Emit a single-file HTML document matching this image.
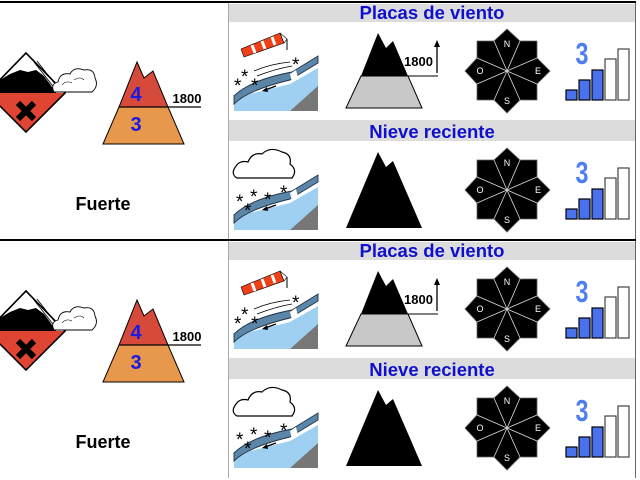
<!DOCTYPE html>
<html><head><meta charset="utf-8"><style>
html,body{margin:0;padding:0;background:#fff;width:640px;height:480px;overflow:hidden}
svg{display:block}
text{font-family:"Liberation Sans",Arial,sans-serif}
</style></head><body>
<svg width="640" height="480" viewBox="0 0 640 480" xmlns="http://www.w3.org/2000/svg">
<defs>
<g id="blk">
  <rect x="229" y="4" width="406" height="18" fill="#dcdcdc"/>
  <rect x="229" y="122" width="406" height="19" fill="#dcdcdc"/>
  <line x1="229" y1="121" x2="635" y2="121" stroke="#bbb" stroke-width="1"/>
  <polygon points="26,53 65,93 26,132 -13,93" fill="#fff" stroke="#000" stroke-width="1.5"/>
  <polygon points="65,93 26,132 -13,93" fill="#e04432"/>
  <polygon points="0,93 0,80 10,74 20,70 28,72 36,70 44,76 50,84 56,93" fill="#000"/>
  <line x1="34" y1="62" x2="56" y2="90" stroke="#000" stroke-width="0.8"/>
  <line x1="37" y1="61" x2="59" y2="89" stroke="#000" stroke-width="0.8"/>
  <polygon points="26,53 65,93 26,132 -13,93" fill="none" stroke="#000" stroke-width="1.5"/>
  <path d="M18,103 L34,119 M34,103 L18,119" stroke="#000" stroke-width="6"/>
  <path d="M54,92 Q50,84 58,82 Q60,72 70,74 Q74,66 84,70 Q94,68 95,78 Q99,86 92,92 Z" fill="#fff" stroke="#000" stroke-width="0.9"/>
  <path d="M62,85 Q66,80 72,83 M74,80 Q80,76 84,80" fill="none" stroke="#000" stroke-width="0.6"/>
  <polygon points="137,62 144,78 153,71 168,107 119,107" fill="#d64a3c" stroke="#000" stroke-width="1"/>
  <polygon points="119,107 168,107 184,144 103,144" fill="#e8984c" stroke="#000" stroke-width="1"/>
  <line x1="119" y1="107" x2="201" y2="107" stroke="#000" stroke-width="1.2"/>
  <text x="136" y="101" font-size="20" font-weight="bold" fill="#1a1ae0" text-anchor="middle">4</text>
  <text x="136" y="131" font-size="20" font-weight="bold" fill="#1a1ae0" text-anchor="middle">3</text>
  <text x="187" y="103" font-size="13" font-weight="bold" fill="#000" text-anchor="middle">1800</text>
  <text x="103" y="210" font-size="18" font-weight="bold" fill="#000" text-anchor="middle">Fuerte</text>
  <text x="432" y="19" font-size="18.5" font-weight="bold" fill="#1010cc" text-anchor="middle">Placas de viento</text>
  <text x="432" y="138" font-size="18.5" font-weight="bold" fill="#1010cc" text-anchor="middle">Nieve reciente</text>
  <g id="slope">
    <polygon points="234,103 250,94 290,84 318,68 318,111 234,111" fill="#9fd0f2"/>
    <polygon points="290,111 318,111 318,86" fill="#777"/>
    <path d="M234,104 Q248,90 290,80 L318,63 L318,56 L292,72 Q250,80 234,96 Z" fill="#5b86a8" stroke="#1e3346" stroke-width="0.9"/>
    <polygon points="290,74 296,70 298,78 292,82" fill="#fff"/>
    <path d="M276,86 L265,90" stroke="#000" stroke-width="1.2"/>
    <polygon points="262,91 267,87 268,92" fill="#000"/>
  </g>
  <use href="#slope" transform="translate(0,119)"/>
  <polygon points="241,49 280,33 284,43 244,57" fill="#f04018" stroke="#000" stroke-width="0.6"/>
  <path d="M252,45 L255,53 M262,41 L265,49 M272,37 L275,45" stroke="#fff" stroke-width="3"/>
  <path d="M280,33 L284,43 L287,39 Z" fill="#fff" stroke="#000" stroke-width="0.6"/>
  <line x1="287" y1="39" x2="287" y2="50" stroke="#000" stroke-width="1"/>
  <path d="M254,71 Q270,64 290,62 M257,76 Q275,69 292,66" fill="none" stroke="#000" stroke-width="0.8"/>
  <g font-size="19" fill="#000" font-family="Liberation Sans">
    <text x="241" y="83">*</text><text x="234" y="92">*</text><text x="251" y="92">*</text><text x="292" y="71">*</text>
    <text x="236" y="208">*</text><text x="250" y="203">*</text><text x="264" y="206">*</text><text x="280" y="199">*</text><text x="244" y="217">*</text>
  </g>
  <path d="M237,178 Q230,174 236,166 Q240,160 248,162 Q252,152 262,154 Q270,146 282,152 Q292,154 290,164 Q298,170 292,178 Z" fill="#fff" stroke="#000" stroke-width="1.2"/>
  <polygon points="378,33 386,48 393,41 408,76 361,76" fill="#000"/>
  <polygon points="361,76 408,76 422,108 346,108" fill="#c8c8c8" stroke="#000" stroke-width="1"/>
  <line x1="405" y1="76" x2="438" y2="76" stroke="#000" stroke-width="1"/>
  <text x="404" y="66" font-size="13" font-weight="bold" fill="#000">1800</text>
  <line x1="437" y1="73" x2="437" y2="45" stroke="#000" stroke-width="1.3"/>
  <polygon points="437,40 434,47 440,47" fill="#000"/>
  <polygon points="378,152 386,167 393,161 422,228 346,228" fill="#000"/>
  <g id="comp">
    <polygon points="507,29 520,41 537,41 537,58 550,71 537,84 537,100 520,100 507,113 494,100 477,100 477,84 465,71 477,58 477,41 494,41" fill="#000" stroke="#666" stroke-width="0.8"/>
    <g stroke="#ddd" stroke-width="0.8">
      <line x1="507" y1="71" x2="520" y2="41"/><line x1="507" y1="71" x2="494" y2="41"/>
      <line x1="507" y1="71" x2="537" y2="58"/><line x1="507" y1="71" x2="537" y2="84"/>
      <line x1="507" y1="71" x2="520" y2="100"/><line x1="507" y1="71" x2="494" y2="100"/>
      <line x1="507" y1="71" x2="477" y2="58"/><line x1="507" y1="71" x2="477" y2="84"/>
    </g>
    <g font-size="9" fill="#fff" text-anchor="middle">
      <text x="507" y="47">N</text><text x="538" y="74">E</text><text x="507" y="104">S</text><text x="480" y="74">O</text>
    </g>
    <g stroke="#000" stroke-width="1.2">
      <rect x="566" y="90" width="11" height="10" fill="#4a72ee"/>
      <rect x="579" y="80" width="11" height="20" fill="#4a72ee"/>
      <rect x="592" y="70" width="11" height="30" fill="#4a72ee"/>
      <rect x="605" y="59" width="11" height="41" fill="#fff" stroke="#444"/>
      <rect x="618" y="49" width="11" height="51" fill="#fff" stroke="#444"/>
    </g>
    <text x="582" y="64" font-size="31" font-weight="bold" fill="#4f7ef0" text-anchor="middle" transform="translate(582,64) scale(0.75,1) translate(-582,-64)">3</text>
  </g>
  <use href="#comp" transform="translate(0,119)"/>
  <line x1="0" y1="2" x2="636" y2="2" stroke="#000" stroke-width="2"/>
  <line x1="228.5" y1="3" x2="228.5" y2="240" stroke="#aaa" stroke-width="1"/>
  <line x1="635.5" y1="3" x2="635.5" y2="240" stroke="#666" stroke-width="1"/>
</g>
</defs>
<use href="#blk"/>
<use href="#blk" transform="translate(0,238)"/>
</svg>
</body></html>
